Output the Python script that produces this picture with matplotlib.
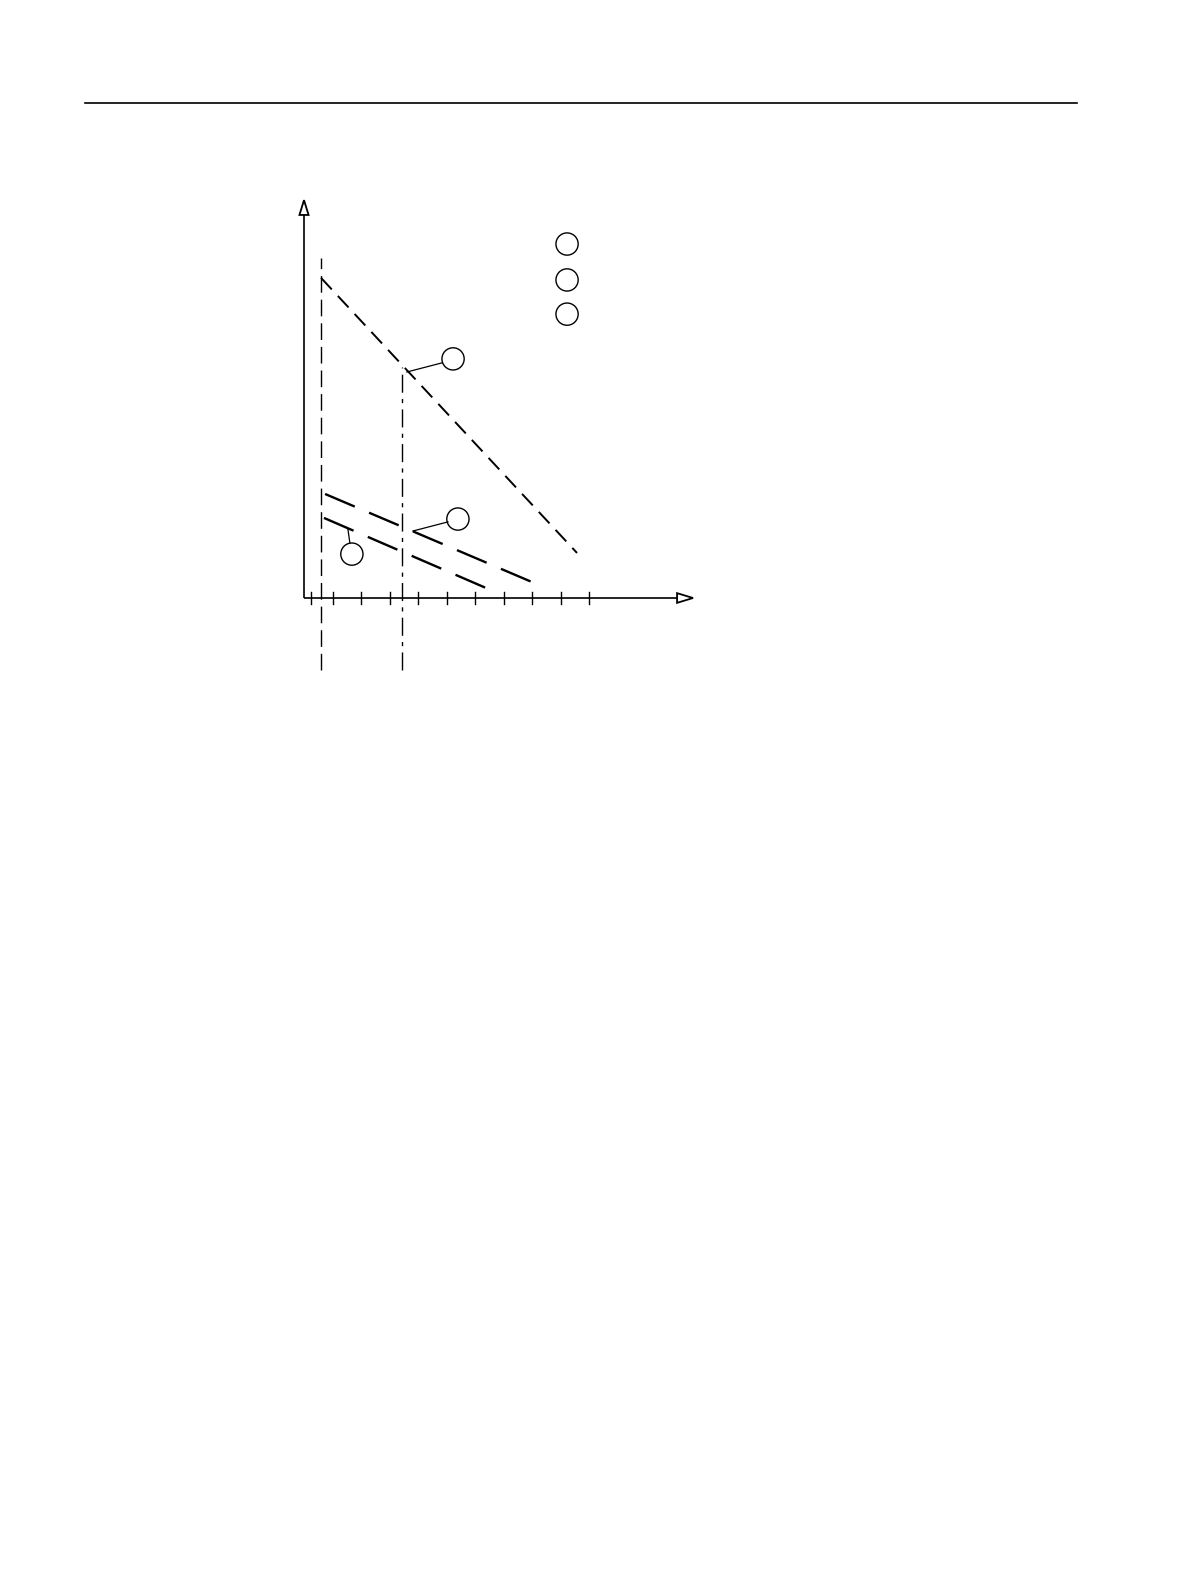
import matplotlib
matplotlib.use("Agg")
import matplotlib.pyplot as plt
from matplotlib.patches import Circle, Polygon

plt.rcParams['lines.scale_dashes'] = False

# ---- data (chart units: one x tick = 1 unit) ----
tick_x = [0.25, 1, 2, 3, 4, 5, 6, 7, 8, 9, 10]
x_axis_end = 13.65
y_axis_end = 13.96

ref_x1 = 0.6          # dashed vertical reference
ref_x1_top = 11.93
ref_x2 = 3.44         # dash-dot vertical reference
ref_x2_top = 8.1
ref_bottom = -2.53

upper_line_x = [0.6, 9.58]
upper_line_y = [11.23, 1.58]
mid_line_x = [0.74, 8.0]
mid_line_y = [3.65, 0.56]
low_line_x = [0.70, 6.39]
low_line_y = [2.81, 0.35]

legend_circles_x = [9.23, 9.23, 9.23]
legend_circles_y = [12.42, 11.16, 9.96]

label_circles_x = [5.23, 5.40, 1.68]
label_circles_y = [8.39, 2.77, 1.54]
leader_start_x = [3.61, 3.82, 1.54]
leader_start_y = [7.93, 2.35, 2.42]
leader_end_x = [4.84, 5.05, 1.61]
leader_end_y = [8.25, 2.67, 1.93]
circle_r = 0.39

# ---- figure ----
W, H = 1191, 1587
fig = plt.figure(figsize=(W / 100, H / 100), dpi=100)
fig.patch.set_facecolor('white')

# header rule
fig.add_artist(plt.Line2D([85 / W, 1077 / W], [1 - 103 / H, 1 - 103 / H],
                          color='black', lw=1.2))

px = 28.5  # pixels per unit
x0, x1 = -1, 14
y0, y1 = -3, 15
left = (304 + x0 * px) / W
bottom = 1 - (598 - y0 * px) / H
ax = fig.add_axes([left, bottom, (x1 - x0) * px / W, (y1 - y0) * px / H])
ax.set_xlim(x0, x1)
ax.set_ylim(y0, y1)
ax.axis('off')

k = 'black'
# axes
ax.plot([0, x_axis_end - 0.56], [0, 0], color=k, lw=1.2, solid_capstyle='butt')
ax.plot([0, 0], [0, y_axis_end - 0.52], color=k, lw=1.2, solid_capstyle='butt')
ax.add_patch(Polygon([[x_axis_end, 0], [x_axis_end - 0.56, 0.17],
                      [x_axis_end - 0.56, -0.17]], closed=True,
                     facecolor='white', edgecolor=k, lw=1.3, zorder=3))
ax.add_patch(Polygon([[0, y_axis_end], [0.16, y_axis_end - 0.52],
                      [-0.16, y_axis_end - 0.52]], closed=True,
                     facecolor='white', edgecolor=k, lw=1.3, zorder=3))
for t in tick_x:
    ax.plot([t, t], [-0.2, 0.2], color=k, lw=1.0)

# vertical references
ax.plot([ref_x1, ref_x1], [ref_bottom, ref_x1_top], color=k, lw=1.0,
        dashes=(12, 5))
ax.plot([ref_x2, ref_x2], [ref_bottom, ref_x2_top], color=k, lw=1.0,
        dashes=(13, 4.5, 3, 4.5))

# sloped lines
ax.plot(upper_line_x, upper_line_y, color=k, lw=1.4, dashes=(11.3, 6.4))
ax.plot(mid_line_x, mid_line_y, color=k, lw=1.7, dashes=(23.2, 11.2))
ax.plot(low_line_x, low_line_y, color=k, lw=1.7, dashes=(23.2, 11.2))

# circles
for cx, cy in zip(legend_circles_x, legend_circles_y):
    ax.add_patch(Circle((cx, cy), circle_r, facecolor='none', edgecolor=k, lw=1.0))
for cx, cy in zip(label_circles_x, label_circles_y):
    ax.add_patch(Circle((cx, cy), circle_r, facecolor='none', edgecolor=k, lw=1.0))
for sx, sy, ex, ey in zip(leader_start_x, leader_start_y, leader_end_x, leader_end_y):
    ax.plot([sx, ex], [sy, ey], color=k, lw=0.9)

fig.savefig('out.png', dpi=100, facecolor='white')
